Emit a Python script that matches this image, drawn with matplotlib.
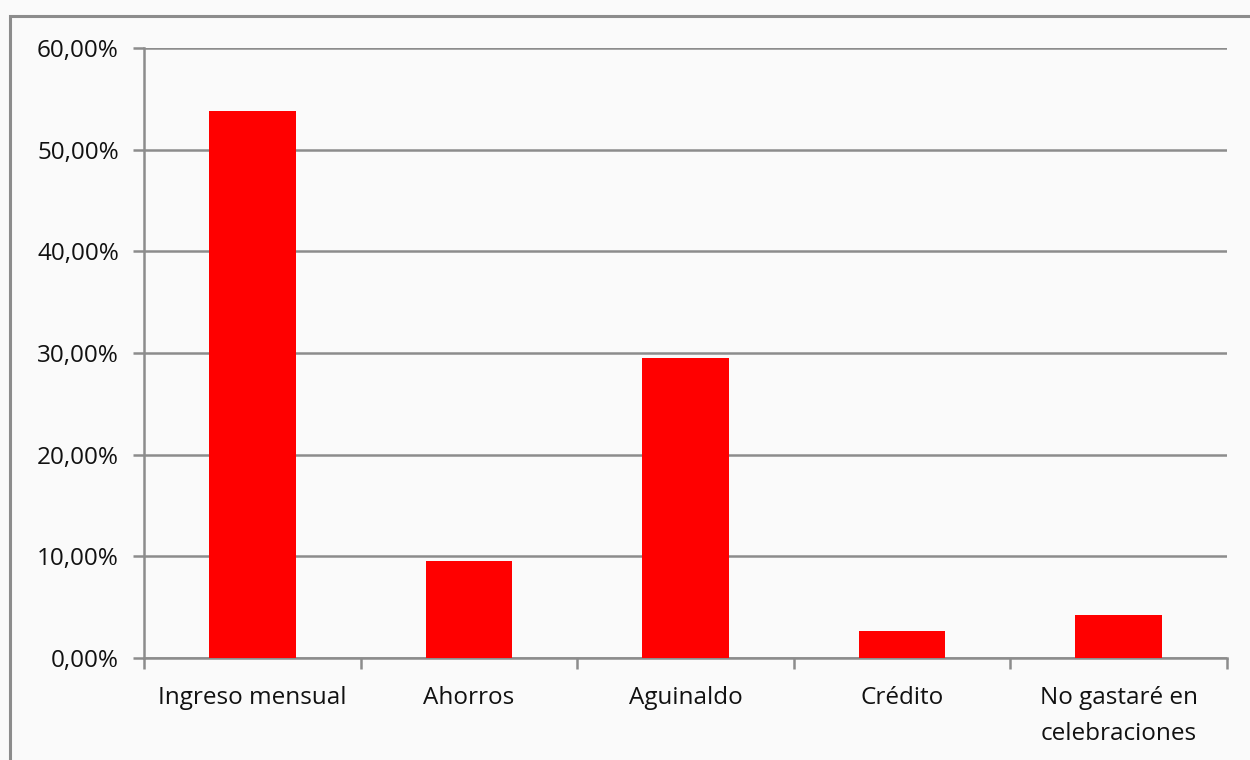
import matplotlib
matplotlib.use("Agg")
import matplotlib.pyplot as plt
from matplotlib.patches import Rectangle
from matplotlib.ticker import FuncFormatter, FixedLocator

categories = ["Ingreso mensual", "Ahorros", "Aguinaldo", "Crédito",
              "No gastaré en\ncelebraciones"]
values = [53.8, 9.5, 29.5, 2.7, 4.2]
yticks = [0, 10, 20, 30, 40, 50, 60]

plt.rcParams["font.family"] = ["Open Sans", "DejaVu Sans"]

fig = plt.figure(figsize=(12.5, 7.6), dpi=100, facecolor="#fafafa")
ax = fig.add_axes([144 / 1250, 1 - 658 / 760, 1083 / 1250, 610 / 760])
ax.set_facecolor("#fafafa")

# outer chart border (runs off the right and bottom edges)
fig.patches.append(Rectangle((10 / 1250, -0.05), 1.2, 1 - 16 / 760 + 0.05,
                             transform=fig.transFigure, fill=False,
                             edgecolor="#8c8c8c", linewidth=2.2))

x = range(len(categories))
ax.bar(x, values, width=0.4, color="#ff0000", zorder=3)

ax.set_xlim(-0.5, len(categories) - 0.5)
ax.set_ylim(0, 60)
ax.set_yticks(yticks)
ax.yaxis.set_major_formatter(FuncFormatter(lambda v, p: f"{v:.2f}%".replace(".", ",")))
ax.grid(axis="y", color="#8c8c8c", linewidth=1.8, zorder=1)

ax.xaxis.set_major_locator(FixedLocator([i - 0.5 for i in range(len(categories) + 1)]))
ax.xaxis.set_major_formatter(FuncFormatter(lambda v, p: ""))
ax.xaxis.set_minor_locator(FixedLocator(list(x)))
ax.set_xticklabels(categories, minor=True, linespacing=1.7, color="#111111")
ax.tick_params(axis="x", which="minor", length=0, pad=20, labelsize=17.5)
ax.tick_params(axis="x", which="major", length=8, width=1.8, color="#8c8c8c")
ax.tick_params(axis="y", length=8, width=1.8, color="#8c8c8c", pad=10,
               labelsize=17.5, labelcolor="#111111")

for s in ["top", "right"]:
    ax.spines[s].set_visible(False)
for s in ["left", "bottom"]:
    ax.spines[s].set_color("#8c8c8c")
    ax.spines[s].set_linewidth(1.8)

plt.savefig("out.png", dpi=100, facecolor=fig.get_facecolor())
plt.close()
